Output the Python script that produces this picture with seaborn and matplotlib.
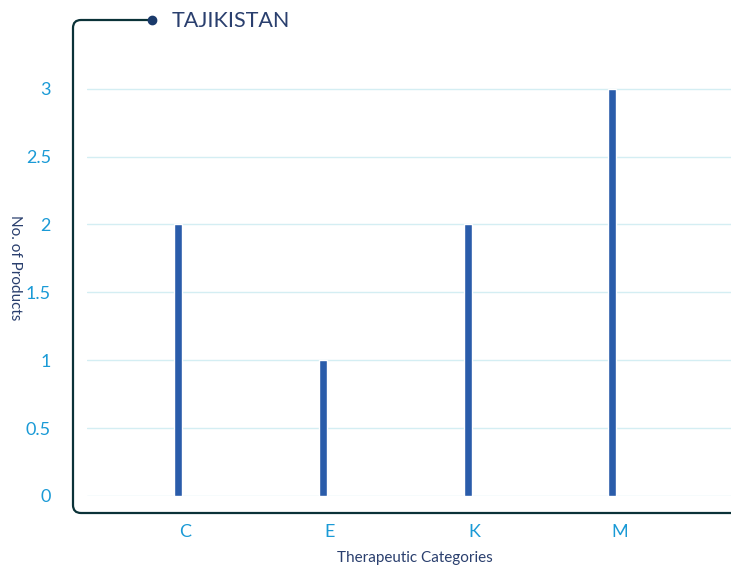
import matplotlib
matplotlib.use("Agg")
import matplotlib.pyplot as plt
import matplotlib.transforms as mtransforms
from matplotlib.path import Path
from matplotlib.patches import PathPatch
import seaborn as sns
import pandas as pd

categories = ["C", "E", "K", "M"]
products = [2, 1, 2, 3]
yticks = [0, 0.5, 1, 1.5, 2, 2.5, 3]
ytick_labels = ["0", "0.5", "1", "1.5", "2", "2.5", "3"]

W, H = 731, 567
df = pd.DataFrame({"category": categories, "products": products})

sns.set_style("white")
plt.rcParams["font.family"] = ["Lato", "DejaVu Sans"]

fig = plt.figure(figsize=(W / 100, H / 100), dpi=100)
# axes in pixel coordinates: left 87, right 731, y=0 at 496
ax = fig.add_axes([87 / W, (H - 496) / H, (731 - 87) / W, (496 - 48) / H])

sns.barplot(data=df, x="category", y="products", order=categories,
            color="#2a5caa", width=0.055, saturation=1, ax=ax)

ax.set_xlim(-0.63, 3.82)
ax.set_ylim(0, 3.3)
ax.set_yticks(yticks)
ax.set_yticklabels(ytick_labels)
ax.grid(axis="y", color="#d4eef3", linewidth=1)
ax.set_axisbelow(True)
for s in ax.spines.values():
    s.set_visible(False)
ax.tick_params(axis="y", length=0, pad=26, labelsize=13, labelcolor="#1a9ad6")
ax.tick_params(axis="x", length=0, pad=20, labelsize=13, labelcolor="#1a9ad6")
offset = mtransforms.ScaledTranslation(7 / 100, 0, fig.dpi_scale_trans)
for lbl in ax.get_xticklabels():
    lbl.set_transform(lbl.get_transform() + offset)
ax.set_xlabel("")
ax.set_ylabel("")

fig.text(15 / W, 1 - 268 / H, "No. of Products", rotation=270, ha="center",
         va="center", fontsize=11, color="#2a3f6e")
fig.text(415 / W, 1 - 558 / H, "Therapeutic Categories", ha="center",
         va="center", fontsize=11, color="#2a3f6e")

# rounded frame line with dot and title
r = 8
def px(x, y):
    return (x / W, 1 - y / H)
verts = [px(152, 20), px(73 + r, 20), px(73, 20), px(73, 20 + r),
         px(73, 513 - r), px(73, 513), px(73 + r, 513), px(731, 513)]
codes = [Path.MOVETO, Path.LINETO, Path.CURVE3, Path.CURVE3,
         Path.LINETO, Path.CURVE3, Path.CURVE3, Path.LINETO]
fig.patches.append(PathPatch(Path(verts, codes), fill=False, edgecolor="#0b3238",
                             linewidth=1.6, transform=fig.transFigure, figure=fig))
fig.lines.append(plt.Line2D([152 / W], [1 - 20 / H], marker="o", markersize=6,
                            color="#1a3a6b", transform=fig.transFigure, figure=fig))
fig.text(172 / W, 1 - 21 / H, "TAJIKISTAN", ha="left", va="center",
         fontsize=15.5, color="#2a3f6e")

fig.savefig("out.png", dpi=100)
